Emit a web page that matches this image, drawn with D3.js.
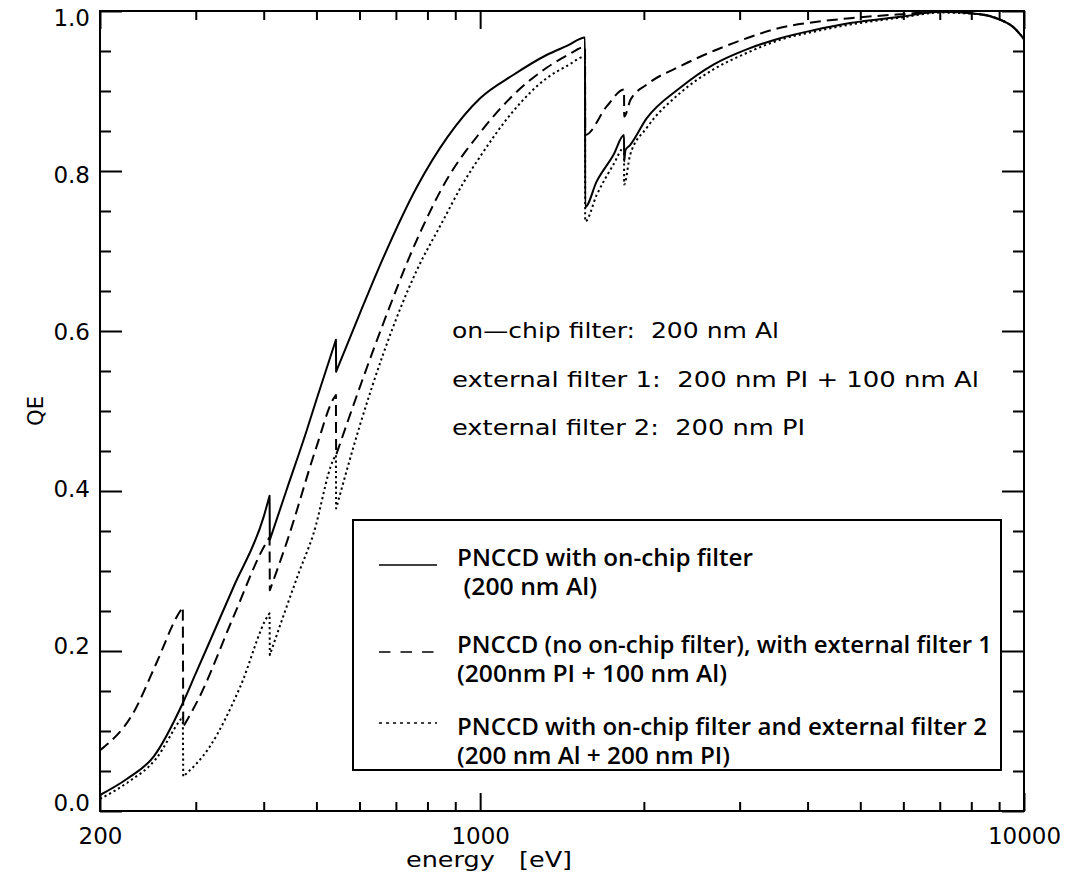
<!DOCTYPE html>
<html>
<head>
<meta charset="utf-8">
<title>PNCCD quantum efficiency</title>
<script src="https://cdn.jsdelivr.net/npm/d3@7"></script>
<style>
  body { margin: 0; background: #fff; }
  .axis text { font-family: "DejaVu Sans", sans-serif; font-size: 23px; fill: #000; }
  .axis line { stroke: #000; stroke-width: 2; }
  .note, .title { font-family: "DejaVu Sans", sans-serif; font-size: 21px; fill: #000; white-space: pre; }
  .legend text { font-family: "Open Sans", "Noto Sans", sans-serif; font-weight: 600; font-size: 24px; fill: #000; white-space: pre; }
</style>
</head>
<body>
<svg width="1065" height="885"></svg>
<script>
// energy [eV] and QE, one pair of arrays per curve
const energyOnChip = [200, 224, 251, 284, 300, 352, 400, 410, 410.5, 440, 480, 500, 543, 543.5, 601, 664, 765, 870, 1000, 1150, 1325, 1450, 1559, 1560, 1638, 1758, 1839, 1840, 1850, 1885, 2025, 2332, 2685, 3091, 3562, 4100, 4789, 5960, 7000, 8300, 9050, 9550, 10000];
const qeOnChip = [0.020, 0.040, 0.068, 0.135, 0.172, 0.280, 0.368, 0.394, 0.339, 0.400, 0.476, 0.514, 0.589, 0.549, 0.622, 0.692, 0.780, 0.842, 0.891, 0.920, 0.945, 0.957, 0.967, 0.755, 0.787, 0.820, 0.845, 0.812, 0.826, 0.832, 0.866, 0.904, 0.933, 0.952, 0.966, 0.976, 0.985, 0.993, 0.999, 0.996, 0.989, 0.980, 0.965];

const energyExt1 = [200, 230, 254, 278, 284, 284.5, 305, 352, 404, 410, 410.5, 442, 500, 537, 543, 543.5, 601, 664, 765, 868, 1000, 1151, 1325, 1450, 1559, 1560, 1710, 1839, 1840, 1890, 2025, 2332, 2685, 3091, 3562, 4100, 4789, 5960, 7000, 8300, 9050, 9550, 10000];
const qeExt1 = [0.076, 0.122, 0.185, 0.245, 0.255, 0.105, 0.143, 0.243, 0.335, 0.342, 0.276, 0.338, 0.455, 0.515, 0.520, 0.445, 0.530, 0.610, 0.714, 0.789, 0.848, 0.895, 0.929, 0.945, 0.955, 0.845, 0.881, 0.902, 0.868, 0.889, 0.908, 0.931, 0.950, 0.966, 0.979, 0.986, 0.991, 0.996, 0.999, 0.996, 0.989, 0.980, 0.965];

const energyExt2 = [200, 224, 254, 281, 284, 284.5, 318, 362, 408, 410, 410.5, 466, 493, 537, 543, 543.5, 601, 664, 765, 850, 931, 1000, 1151, 1325, 1450, 1559, 1560, 1638, 1758, 1839, 1840, 1887, 2025, 2332, 2685, 3091, 3562, 4100, 4789, 5960, 7000, 8300, 9050, 9550, 10000];
const qeExt2 = [0.015, 0.035, 0.066, 0.114, 0.118, 0.043, 0.080, 0.155, 0.245, 0.247, 0.195, 0.301, 0.345, 0.439, 0.445, 0.378, 0.482, 0.572, 0.676, 0.735, 0.785, 0.818, 0.875, 0.916, 0.932, 0.943, 0.737, 0.770, 0.808, 0.829, 0.783, 0.820, 0.854, 0.8975, 0.927, 0.9475, 0.964, 0.974, 0.983, 0.992, 0.998, 0.996, 0.989, 0.980, 0.965];

// ticks
const xMajor = [200, 1000, 10000];
const xMinor = [300, 400, 500, 600, 700, 800, 900, 2000, 3000, 4000, 5000, 6000, 7000, 8000, 9000];
const yMajor = [0, 0.2, 0.4, 0.6, 0.8, 1.0];
const yMinor = [0.05, 0.1, 0.15, 0.25, 0.3, 0.35, 0.45, 0.5, 0.55, 0.65, 0.7, 0.75, 0.85, 0.9, 0.95];

// text
const notes = ["on\u2014chip filter:  200 nm Al", "external filter 1:  200 nm PI + 100 nm Al", "external filter 2:  200 nm PI"];
const legendLabels = [
  ["PNCCD with on-chip filter", " (200 nm Al)"],
  ["PNCCD (no on-chip filter), with external filter 1", "(200nm PI + 100 nm Al)"],
  ["PNCCD with on-chip filter and external filter 2", "(200 nm Al + 200 nm PI)"]
];

const margin = { top: 11, right: 41, bottom: 74, left: 100 };
const width = 1065, height = 885;

const x = d3.scaleLog().domain([200, 10000]).range([margin.left, width - margin.right]);
const y = d3.scaleLinear().domain([0, 1]).range([height - margin.bottom, margin.top]);

const svg = d3.select("svg");

function axis(gen, tr) {
  return svg.append("g").attr("class", "axis").attr("transform", tr)
    .call(gen)
    .call(g => g.select(".domain").remove());
}

const atBottom = `translate(0,${y(0)})`, atTop = `translate(0,${y(1)})`;
const atLeft = `translate(${x(200)},0)`, atRight = `translate(${x(10000)},0)`;

axis(d3.axisBottom(x).tickValues(xMajor).tickSize(-18).tickPadding(17).tickFormat(d3.format("d")), atBottom);
axis(d3.axisBottom(x).tickValues(xMinor).tickSize(-9).tickFormat(""), atBottom);
axis(d3.axisTop(x).tickValues(xMajor).tickSize(-18).tickFormat(""), atTop);
axis(d3.axisTop(x).tickValues(xMinor).tickSize(-9).tickFormat(""), atTop);
const yAxisG = axis(d3.axisLeft(y).tickValues(yMajor).tickSize(-22).tickPadding(10).tickFormat(d3.format(".1f")), atLeft);
axis(d3.axisLeft(y).tickValues(yMinor).tickSize(-11).tickFormat(""), atLeft);
axis(d3.axisRight(y).tickValues(yMajor).tickSize(-22).tickFormat(""), atRight);
axis(d3.axisRight(y).tickValues(yMinor).tickSize(-11).tickFormat(""), atRight);

// y labels sit slightly inward at the ends
yAxisG.selectAll("text").attr("y", d => (d - 0.5) * 15);

// frame
svg.append("rect")
  .attr("x", x(200)).attr("y", y(1))
  .attr("width", x(10000) - x(200)).attr("height", y(0) - y(1))
  .attr("fill", "none").attr("stroke", "#000").attr("stroke-width", 2);

// curves: smooth pieces joined by vertical absorption edges
const smooth = d3.line().x(d => x(d[0])).y(d => y(d[1])).curve(d3.curveMonotoneX);
function edgePath(pts) {
  const segs = [[pts[0]]];
  for (let i = 1; i < pts.length; i++) {
    if (pts[i][0] - pts[i - 1][0] < 1) segs.push([]);
    segs[segs.length - 1].push(pts[i]);
  }
  return segs.map((s, i) => {
    const p = smooth(s);
    return i ? "L" + p.slice(1) : p;
  }).join("");
}

const series = [
  { e: energyOnChip, q: qeOnChip, dash: null },
  { e: energyExt1, q: qeExt1, dash: "11,6" },
  { e: energyExt2, q: qeExt2, dash: "2.2,3" }
];
series.forEach(s => {
  svg.append("path")
    .attr("d", edgePath(d3.zip(s.e, s.q)))
    .attr("fill", "none")
    .attr("stroke", "#000")
    .attr("stroke-width", 2)
    .attr("stroke-linejoin", "round")
    .attr("stroke-dasharray", s.dash);
});

// the plot's vector font is wider than DejaVu: fit each text to its width
function fit(sel, w) {
  sel.attr("textLength", w).attr("lengthAdjust", "spacingAndGlyphs");
}

// axis titles
svg.append("text").attr("class", "title")
  .attr("x", 406).attr("y", 867)
  .text("energy   [eV]")
  .call(fit, 166);
svg.append("text").attr("class", "title")
  .attr("transform", `translate(43,${(y(0) + y(1)) / 2}) rotate(-90)`)
  .attr("text-anchor", "middle")
  .text("QE")
  .call(fit, 30);

// filter notes
const noteWidths = [327, 527, 353];
svg.selectAll(".note").data(notes).join("text")
  .attr("class", "note")
  .attr("x", 452)
  .attr("y", (d, i) => 338 + i * 48.7)
  .attr("textLength", (d, i) => noteWidths[i])
  .attr("lengthAdjust", "spacingAndGlyphs")
  .text(d => d);

// legend
const lg = svg.append("g").attr("class", "legend");
lg.append("rect")
  .attr("x", 353).attr("y", 520).attr("width", 648).attr("height", 250)
  .attr("fill", "#fff").attr("stroke", "#000").attr("stroke-width", 2);

const sampleDash = [null, "11.5,10", "3,4"];
const sampleY = [565, 652, 723];
const textWidths = [[296, 140], [535, 270], [530, 273]];
const baseY = [566, 653, 735];
legendLabels.forEach((pair, i) => {
  lg.append("line")
    .attr("x1", 379).attr("x2", 437)
    .attr("y1", sampleY[i]).attr("y2", sampleY[i])
    .attr("stroke", "#000").attr("stroke-width", 1.6)
    .attr("stroke-dasharray", sampleDash[i]);
  pair.forEach((t, j) => {
    lg.append("text")
      .attr("x", 457)
      .attr("y", baseY[i] + j * 28.5)
      .attr("textLength", textWidths[i][j])
      .attr("lengthAdjust", "spacingAndGlyphs")
      .text(t);
  });
});
</script>
</body>
</html>
